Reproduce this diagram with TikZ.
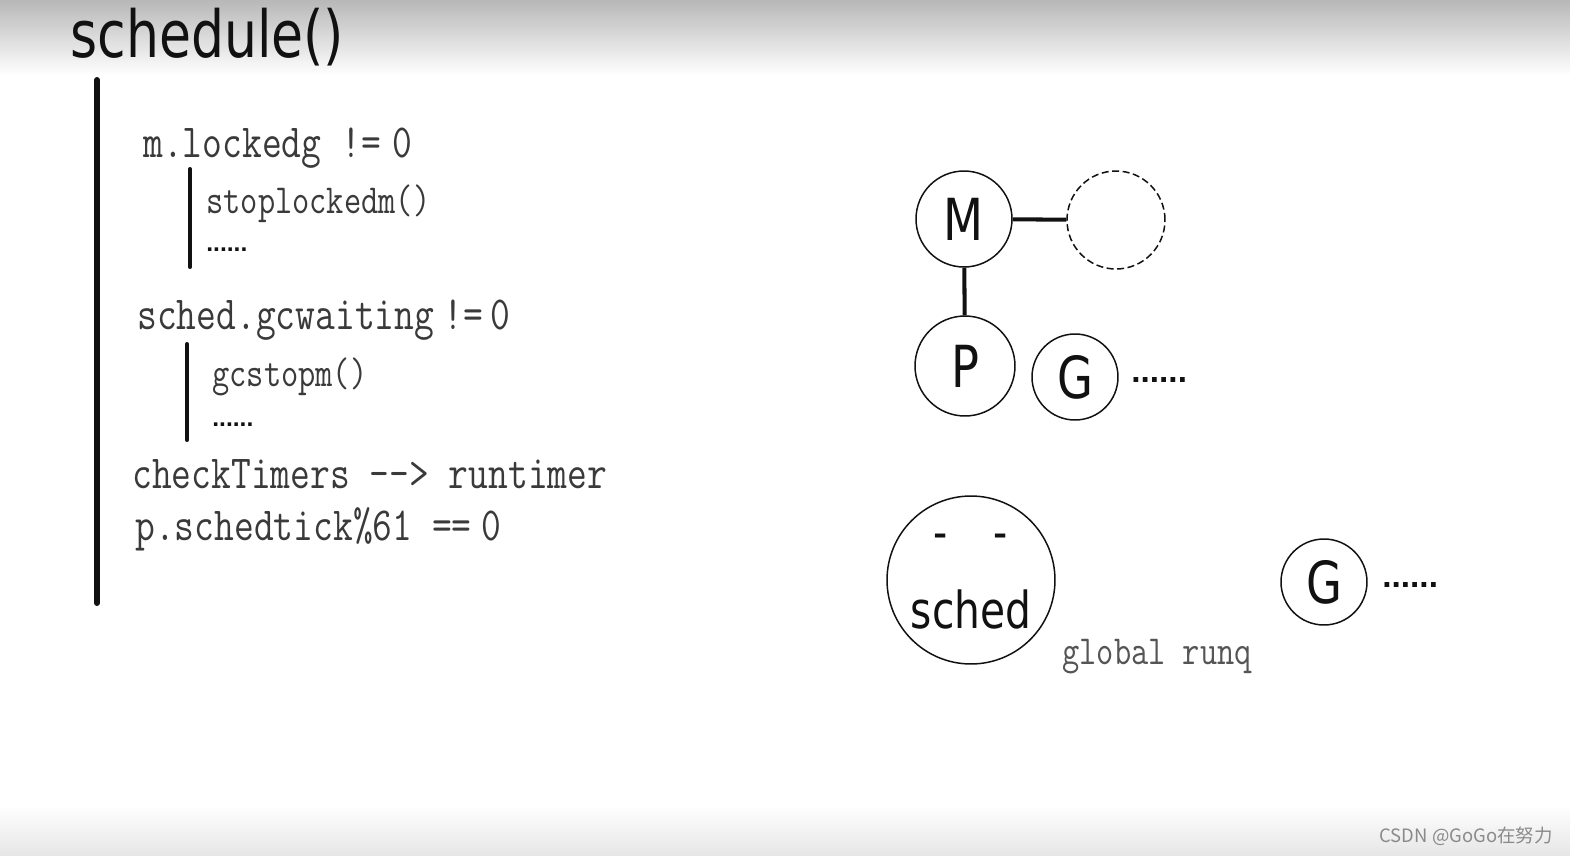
\documentclass[tikz,border=0pt]{standalone}
\usepackage{fontspec}
\usepackage{xcolor}
\definecolor{cInk}{HTML}{111111}
\definecolor{cText}{HTML}{3A3A3A}
\definecolor{cSoft}{HTML}{555555}
\definecolor{cMark}{HTML}{8A8A8A}
\newfontfamily\handfont[FakeStretch=0.8]{DejaVu Sans}
\newfontfamily\codefont[FakeStretch=0.81]{Latin Modern Mono}
\newfontfamily\dotfont{Liberation Sans}
\newfontfamily\cjkfont{Noto Sans CJK SC}
\usepackage{tikz}
\usetikzlibrary{positioning}
\tikzset{
  bar-main/.style={line width=3.4pt,line cap=round,draw=cInk},
  bar-sub/.style={line width=2.3pt,line cap=round,draw=cInk},
  code-big/.style={font=\codefont\fontsize{27}{30}\selectfont,text=cText,
    anchor=base west,inner sep=0pt},
  code-small/.style={font=\codefont\fontsize{23.5}{26}\selectfont,text=cText,
    anchor=base west,inner sep=0pt},
  dots-small/.style={font=\dotfont\bfseries\fontsize{14}{14}\selectfont,
    text=cInk,anchor=west,inner sep=0pt},
  dots-big/.style={font=\dotfont\bfseries\fontsize{19}{19}\selectfont,
    text=cInk,anchor=west,inner sep=0pt},
  node-circ/.style={draw=cInk,line width=0.85pt,circle,inner sep=0pt,
    font=\handfont\fontsize{33}{33}\selectfont,text=cInk},
  node-spare/.style={node-circ,dashed,dash pattern=on 4pt off 2pt},
  link/.style={line width=2.3pt,draw=cInk},
}

\begin{document}
\begin{tikzpicture}[x=0.02cm,y=-0.02cm]
  \useasboundingbox (0,0) rectangle (1570,856);
  \fill[white] (0,0) rectangle (1570,856);
  \shade[top color=black!28,bottom color=white] (0,0) rectangle (1570,75);
  \shade[top color=white,bottom color=black!10] (0,805) rectangle (1570,856);

  % left: schedule() outline
  \node[font=\handfont\fontsize{37}{37}\selectfont,text=cInk,
    anchor=base west,inner sep=0pt] (title) at (70,57) {schedule()};
  \draw[bar-main] (97,80) -- (97,603);

  \node[code-big] (lockedg) at (143,157) {m.lockedg !=\hspace{0.25em}0};
  \draw[bar-sub] (190,169) -- (190,267);
  \node[code-small] (stoplocked) at (206,213) {stoplockedm()};
  \node[dots-small] (dots1) at (206,250) {......};

  \node[code-big] (gcwait) at (137,329)
    {sched.gcwaiting\hspace{0.2em}!=\hspace{0.15em}0};
  \draw[bar-sub] (187,344) -- (187,440);
  \node[code-small] (gcstop) at (212,386) {gcstopm()};
  \node[dots-small] (dots2) at (212,425) {......};

  \node[code-big] (timers) at (132,488) {checkTimers --> runtimer};
  \node[code-big] (tick) at (135,540) {p.schedtick\%61 ==\hspace{0.2em}0};

  % right: M / P / G
  \node[node-circ,minimum size=1.92cm] (m) at (964,219) {M};
  \node[node-spare,minimum size=1.96cm] (spare) at (1116,220) {};
  \node[node-circ,minimum size=2cm] (p) at (965,366) {P};
  \node[node-circ,minimum size=1.72cm] (g) at (1075,377) {G};
  \node[dots-big] (gdots) at (1131,380) {......};
  \draw[link] (m) -- (spare);
  \draw[link] (m) -- (p);

  % global runq
  \node[node-circ,minimum size=3.36cm] (sched) at (971,580) {};
  \node[font=\handfont\fontsize{28}{28}\selectfont,text=cInk,inner sep=0pt]
    (eyeL) at (941,542) {-};
  \node[font=\handfont\fontsize{28}{28}\selectfont,text=cInk,inner sep=0pt]
    (eyeR) at (1001,542) {-};
  \node[font=\handfont\fontsize{29}{29}\selectfont,text=cInk,
    anchor=base,inner sep=0pt] (schedtxt) at (971,628) {sched};
  \node[code-small,text=cSoft] (runq) at (1062,664) {global runq};
  \node[node-circ,minimum size=1.72cm] (gq) at (1324,582) {G};
  \node[dots-big] (gqdots) at (1382,585) {......};

  \node[font=\cjkfont\fontsize{10.5}{11}\selectfont,text=cMark,
    anchor=base east,inner sep=0pt] (mark) at (1553,842) {CSDN @GoGo在努力};
\end{tikzpicture}
\end{document}
